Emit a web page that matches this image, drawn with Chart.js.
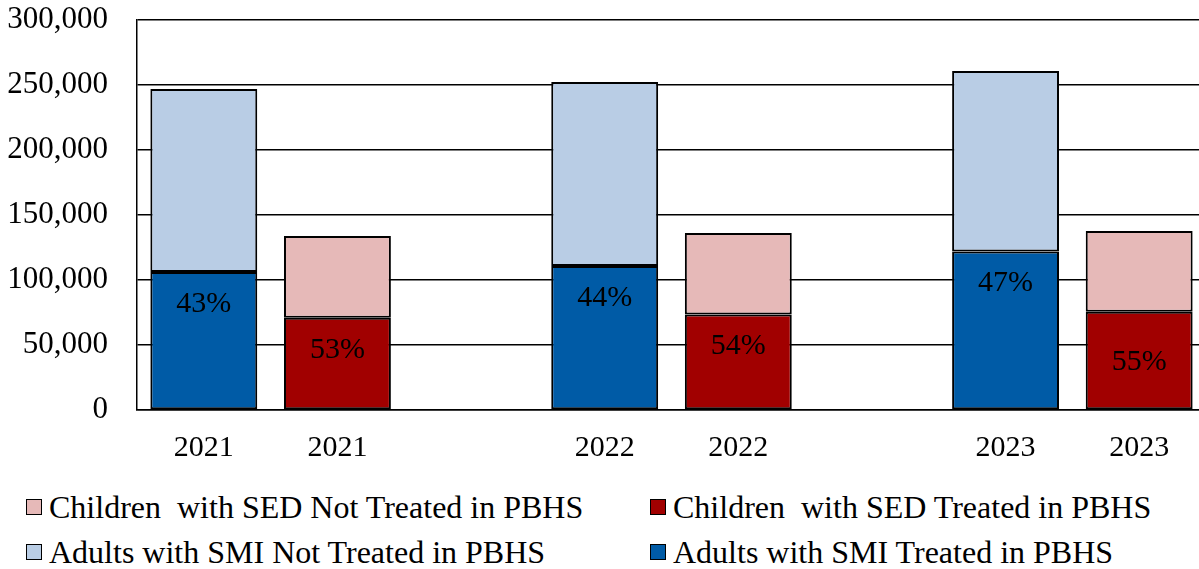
<!DOCTYPE html>
<html>
<head>
<meta charset="utf-8">
<title>Adults with SMI and Children with SED in PBHS</title>
<script src="https://cdn.jsdelivr.net/npm/chart.js@4/dist/chart.umd.min.js"></script>
<style>
  html, body { margin: 0; padding: 0; background: #fff; overflow: hidden; width: 1199px; height: 569px; }
  #wrap { position: absolute; left: 0; top: 0; width: 1206px; height: 470px; }
  #legend { position: absolute; left: 0; top: 490px; width: 1199px; height: 79px;
            font-family: "Liberation Serif", "Times New Roman", serif; font-size: 32px; color: #000; }
  .item { position: absolute; display: flex; align-items: center; white-space: pre; line-height: 34px; }
  .box { width: 14px; height: 14px; border: 1.5px solid #000; margin-right: 7px; flex: none; }
</style>
</head>
<body>
<div id="wrap"><canvas id="chart"></canvas></div>
<div id="legend"></div>
<script>
// Years shown on the x axis (each year has an adult bar and a child bar)
const years = ['2021', '2022', '2023'];

// Number of people per year
const adultsTreated      = [106200, 110800, 122000];
const adultsNotTreated   = [140700, 141500, 138800];
const childrenTreated    = [70900, 73500, 75500];
const childrenNotTreated = [62900, 62700, 62200];

// Y axis ticks
const yTicks = [0, 50000, 100000, 150000, 200000, 250000, 300000];

// Series names
const seriesNames = {
  adultsTreated: 'Adults with SMI Treated in PBHS',
  adultsNotTreated: 'Adults with SMI Not Treated in PBHS',
  childrenTreated: 'Children  with SED Treated in PBHS',
  childrenNotTreated: 'Children  with SED Not Treated in PBHS'
};

const COLORS = {
  adultsTreated: '#005BA6',
  adultsNotTreated: '#B9CDE5',
  childrenTreated: '#A10000',
  childrenNotTreated: '#E6B9B8'
};

// Slots: adult bar, child bar, empty gap between years
const labels = [];
const adultSlot = [];
const childSlot = [];
years.forEach((y, i) => {
  adultSlot.push(labels.length); labels.push(y);
  childSlot.push(labels.length); labels.push(y);
  if (i < years.length - 1) labels.push('');
});

function place(values, slots) {
  const arr = labels.map(() => null);
  values.forEach((v, i) => { arr[slots[i]] = v; });
  return arr;
}

const FONT = '"Liberation Serif", "Times New Roman", serif';

function ds(key, values, slots) {
  return {
    key,
    label: seriesNames[key],
    data: place(values, slots),
    backgroundColor: COLORS[key],
    borderColor: '#000',
    borderWidth: 2,
    borderSkipped: false,
    barPercentage: 0.8,
    categoryPercentage: 1.0,
    stack: 's'
  };
}

// Share of treated people, drawn inside the treated part of each bar
const shareLabels = {
  id: 'shareLabels',
  afterDatasetsDraw(chart, args, opts) {
    const ctx = chart.ctx;
    ctx.save();
    ctx.font = '30px ' + FONT;
    ctx.fillStyle = '#000';
    ctx.textAlign = 'center';
    ctx.textBaseline = 'middle';
    const pairs = [[0, adultsTreated, adultsNotTreated, adultSlot],
                   [2, childrenTreated, childrenNotTreated, childSlot]];
    pairs.forEach(([ti, treated, notTreated, slots], p) => {
      const meta = chart.getDatasetMeta(ti);
      treated.forEach((v, i) => {
        const el = meta.data[slots[i]];
        const pct = Math.round(v / (v + notTreated[i]) * 100);
        const off = opts.offsets[p][i];
        ctx.fillText(pct + '%', el.x, el.y + off);
      });
    });
    ctx.restore();
  }
};

const chart = new Chart(document.getElementById('chart'), {
  type: 'bar',
  data: {
    labels,
    datasets: [
      ds('adultsTreated', adultsTreated, adultSlot),
      ds('adultsNotTreated', adultsNotTreated, adultSlot),
      ds('childrenTreated', childrenTreated, childSlot),
      ds('childrenNotTreated', childrenNotTreated, childSlot)
    ]
  },
  options: {
    responsive: true,
    maintainAspectRatio: false,
    animation: false,
    layout: { padding: 0 },
    plugins: {
      legend: { display: false },
      tooltip: { enabled: false },
      shareLabels: { offsets: [[32, 32, 32], [32, 32, 50]] }
    },
    scales: {
      x: {
        stacked: true,
        grid: { display: false },
        border: { color: '#000', width: 1.5 },
        ticks: { color: '#000', font: { family: FONT, size: 30 }, padding: 12, autoSkip: false, maxRotation: 0 },
        afterFit(s) { s.height = 60; s.paddingLeft = 0; s.paddingRight = 0; }
      },
      y: {
        stacked: true,
        min: yTicks[0],
        max: yTicks[yTicks.length - 1],
        afterBuildTicks(s) { s.ticks = yTicks.map(v => ({ value: v })); },
        grid: { color: '#000', lineWidth: 1.5, drawTicks: false },
        border: { color: '#000', width: 1.5 },
        ticks: {
          color: '#000',
          font: { family: FONT, size: 31 },
          padding: 29,
          callback: v => v.toLocaleString('en-US')
        },
        afterFit(s) { s.width = 137; s.paddingTop = 20; s.paddingBottom = 0; }
      }
    }
  },
  plugins: [shareLabels]
});

// Legend in two columns: children on the first row, adults on the second
const legendOrder = [
  ['childrenNotTreated', 26, 0], ['childrenTreated', 650, 0],
  ['adultsNotTreated', 26, 45], ['adultsTreated', 650, 45]
];
const legendEl = document.getElementById('legend');
legendOrder.forEach(([key, left, top]) => {
  const d = chart.data.datasets.find(x => x.key === key);
  const item = document.createElement('div');
  item.className = 'item';
  item.style.left = left + 'px';
  item.style.top = top + 'px';
  const box = document.createElement('span');
  box.className = 'box';
  box.style.background = d.backgroundColor;
  const txt = document.createElement('span');
  txt.textContent = d.label;
  item.appendChild(box);
  item.appendChild(txt);
  legendEl.appendChild(item);
});
</script>
</body>
</html>
